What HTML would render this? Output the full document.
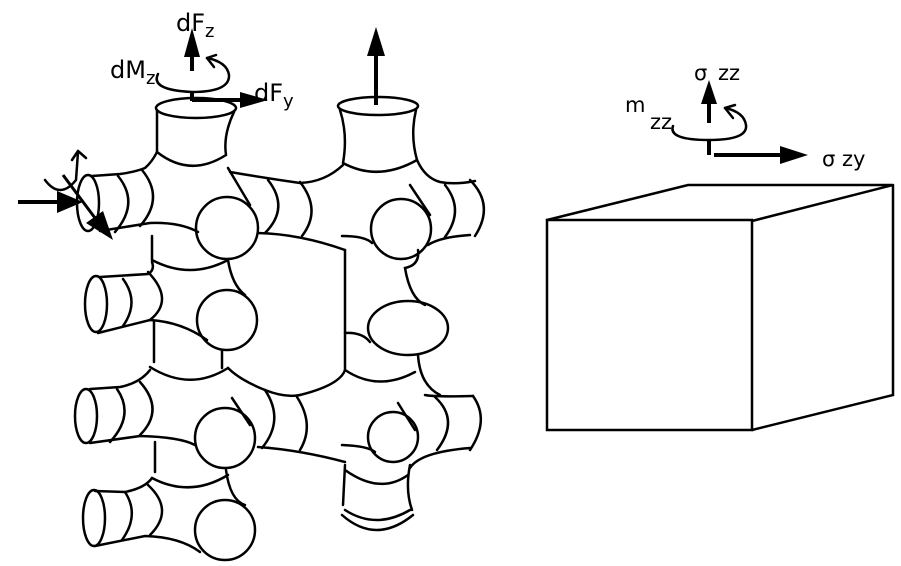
<!DOCTYPE html>
<html><head><meta charset="utf-8"><style>
html,body{margin:0;padding:0;background:#fff;}
svg{display:block;}
text{font-family:"DejaVu Sans","Liberation Sans",sans-serif;fill:#000;}
</style></head><body>
<svg width="901" height="566" viewBox="0 0 901 566" xmlns="http://www.w3.org/2000/svg">
<g fill="none" stroke="#000" stroke-width="2.5" stroke-linecap="round">
<ellipse cx="196" cy="108" rx="40" ry="10"/>
<path d="M157,110 L157,152 M234,112 Q223,135 226,155 M157,152 Q190,178 226,155"/>
<ellipse cx="378" cy="106" rx="40" ry="9"/>
<path d="M340,110 Q348,135 343,163 M416,110 Q410,135 417,160 M343,163 Q378,182 417,160"/>
<ellipse cx="88" cy="203" rx="11" ry="28"/>
<path d="M92,176 L120,174 Q135,172 145,168 Q152,162 157,152"/>
<path d="M118,176 Q140,203 115,232 M142,170 Q165,198 140,226"/>
<path d="M100,231 L150,223 Q180,222 198,232"/>
<circle cx="227" cy="228" r="31"/>
<path d="M228,168 L250,205"/>
<path d="M230,172 Q265,178 300,183 Q325,182 343,165"/>
<path d="M268,180 Q290,208 265,233 M300,182 Q322,210 302,236"/>
<path d="M258,233 Q300,234 345,250"/>
<circle cx="401" cy="229" r="30"/>
<path d="M410,185 L430,215"/>
<path d="M417,160 Q425,178 440,182 Q455,185 475,181"/>
<path d="M470,180 Q495,205 475,236 M445,185 Q465,210 445,237"/>
<path d="M428,245 Q440,237 470,235"/>
<path d="M342,236 Q365,236 372,243"/>
<path d="M345,250 L345,330 Q345,355 345,370"/>
<path d="M418,250 Q420,265 405,268 Q410,298 425,305"/>
<path d="M152,236 L152,260 Q190,280 228,260 Q232,285 245,295"/>
<ellipse cx="96" cy="304" rx="11" ry="28"/>
<path d="M100,277 L148,274 Q155,270 152,262"/>
<path d="M123,279 Q140,302 123,326 M148,272 Q175,300 150,320"/>
<path d="M98,333 L150,320 Q182,322 207,340"/>
<circle cx="227" cy="320" r="30"/>
<path d="M154,322 L154,362 M222,350 L222,368"/>
<path d="M150,367 Q190,392 228,368"/>
<ellipse cx="408" cy="328" rx="40" ry="27"/>
<path d="M345,333 Q362,332 370,342"/>
<path d="M345,370 Q340,385 300,395"/>
<path d="M345,370 Q378,392 415,372"/>
<path d="M418,355 Q420,385 440,395"/>
<ellipse cx="86" cy="416" rx="11" ry="27"/>
<path d="M90,389 L120,387 Q140,383 150,370"/>
<path d="M117,389 Q135,415 110,442 M140,382 Q165,410 140,435"/>
<path d="M90,443 L140,436 Q180,437 195,445"/>
<circle cx="225" cy="438" r="30"/>
<path d="M232,398 L250,425"/>
<path d="M228,368 Q240,380 265,390 Q285,398 300,395"/>
<path d="M265,390 Q285,420 262,448 M297,397 Q315,425 300,450"/>
<path d="M258,447 Q300,450 345,462"/>
<circle cx="393" cy="437" r="25"/>
<path d="M398,403 L415,430"/>
<path d="M425,395 Q435,397 473,396"/>
<path d="M473,396 Q490,420 470,450 M435,397 Q460,420 437,450"/>
<path d="M410,468 Q420,452 470,448"/>
<path d="M342,445 Q368,446 375,452"/>
<path d="M345,465 L343,505 M410,465 Q405,490 412,510"/>
<path d="M345,470 Q380,495 408,475"/>
<path d="M342,515 Q376,545 413,515 M345,510 Q376,530 410,510"/>
<path d="M155,442 L155,472 M226,470 Q230,500 245,505"/>
<path d="M152,478 Q190,498 228,475"/>
<ellipse cx="94" cy="518" rx="11" ry="28"/>
<path d="M95,491 L125,492 Q145,488 152,478"/>
<path d="M125,492 Q140,515 122,540 M148,485 Q175,510 150,535"/>
<path d="M95,546 L145,536 Q180,537 200,552"/>
<circle cx="225" cy="530" r="30"/>
<path d="M547,220 L752,220 L752,430 L547,430 Z"/>
<path d="M547,220 L688,185 L893,185 L752,221 M893,185 L893,395 L752,430"/>
<path d="M158,74 Q150,90 192,92 Q230,92 229,75 Q227,62 207,58"/>
<path d="M207,58 L216,55 M207,58 L214,67"/>
<path d="M673,126 Q668,140 709,140 Q748,140 746,125 Q744,112 725,108"/>
<path d="M725,108 L735,105 M725,108 L733,118"/>
<path d="M45,180 Q60,200 76,180 L78,152 M78,151 L72,160 M78,151 L86,158"/>
</g>
<g stroke="#000" stroke-width="4" fill="#000">
<line x1="192" y1="71" x2="192" y2="55"/>
<polygon points="192,28 184,57 200,57" stroke-width="0"/>
<line x1="192" y1="92" x2="192" y2="101"/>
<line x1="192" y1="100" x2="242" y2="100"/>
<polygon points="268,100 240,92 240,108" stroke-width="0"/>
<line x1="376" y1="105" x2="376" y2="54"/>
<polygon points="376,27 367,56 385,56" stroke-width="0"/>
<line x1="709" y1="123" x2="709" y2="100"/>
<polygon points="709,80 701,104 717,104" stroke-width="0"/>
<line x1="709" y1="141" x2="709" y2="155"/>
<line x1="714" y1="155" x2="782" y2="155"/>
<polygon points="808,155 780,146 780,164" stroke-width="0"/>
<line x1="18" y1="202" x2="60" y2="202"/>
<polygon points="83,202 57,191 57,213" stroke-width="0"/>
<line x1="63" y1="175" x2="95" y2="218" stroke-width="3"/>
<polygon points="113,240 86,223 103,211" stroke-width="0"/>
</g>
<text x="176" y="31" style="font-size:24px">dF<tspan style="font-size:18px" dy="6">z</tspan></text>
<text x="110" y="78" style="font-size:24px">dM<tspan style="font-size:18px" dy="6">z</tspan></text>
<text x="254" y="101" style="font-size:24px">dF<tspan style="font-size:18px" dy="6">y</tspan></text>
<text x="694" y="80" style="font-size:21px">σ</text><text x="718" y="80" style="font-size:21px">zz</text>
<text x="625" y="112" style="font-size:21px">m</text><text x="650" y="129" style="font-size:21px">zz</text>
<text x="822" y="166" style="font-size:21px">σ zy</text>
</svg>
</body></html>
